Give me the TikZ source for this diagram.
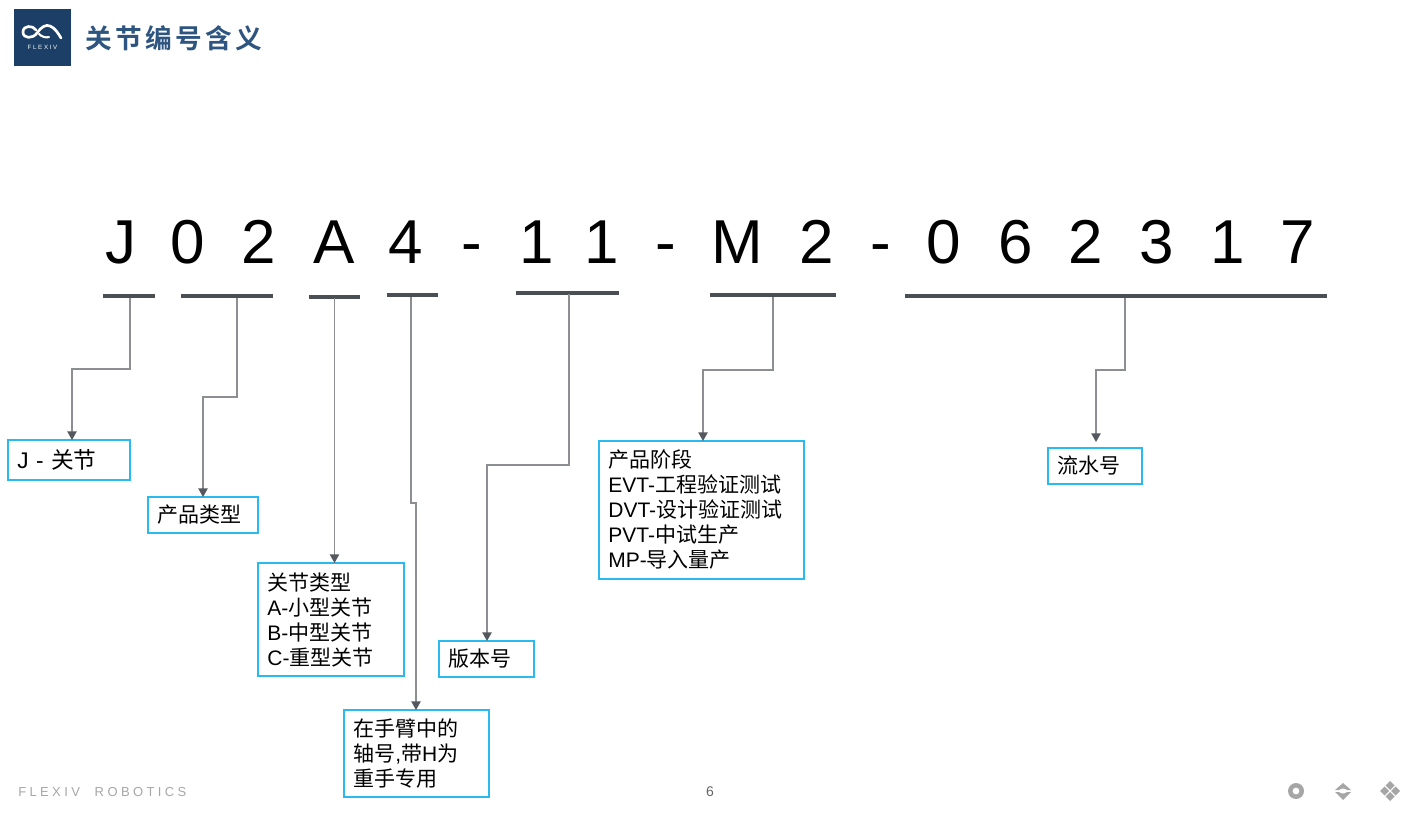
\documentclass[tikz,border=0pt]{standalone}
\usepackage{fontspec}
\usetikzlibrary{arrows.meta}
\setmainfont{Liberation Sans}
\newfontfamily\cjk{Noto Sans CJK SC}
\newfontfamily\cjkb{Noto Sans CJK SC}[BoldFont={Noto Sans CJK SC Bold}]
\newfontfamily\spaced{Liberation Sans}[LetterSpace=26]
\newcommand{\zh}[1]{{\cjk #1}}
\definecolor{boxblue}{HTML}{2ABAEE}
\definecolor{barc}{HTML}{4A4E55}
\definecolor{linec}{HTML}{8C8E92}
\definecolor{tipc}{HTML}{55585E}
\definecolor{navy}{HTML}{1B3F66}
\definecolor{titlec}{HTML}{2E5580}
\definecolor{footc}{HTML}{A6A6A6}
\begin{document}
\begin{tikzpicture}[x=0.75pt,y=-0.75pt,
  bigch/.style={font=\fontsize{46.5}{48}\selectfont,anchor=base,inner sep=0pt,text=black},
  barn/.style={fill=barc,inner sep=0pt,minimum height=3pt,anchor=west},
  lbl/.style={draw=boxblue,line width=0.85pt,anchor=north west,align=left,inner xsep=7pt,inner ysep=0pt,
    font=\fontsize{15.75}{18.75}\selectfont,text=black,outer sep=0pt},
  conn/.style={draw=linec,line width=1pt,-{Triangle[length=6.5pt,width=7pt,color=tipc]}},
  foot/.style={text=footc,inner sep=0pt},
  icon/.style={fill=footc,draw=none}]
\useasboundingbox (0,0) rectangle (1419,815);
% logo
\node[fill=navy,minimum width=42.75pt,minimum height=42.75pt,inner sep=0pt,anchor=north west] (logo) at (14,9) {};
\draw[white,line width=2pt,line cap=round,line join=round]
  (36,30) .. controls (33,25) and (23,25) .. (23,32) .. controls (23,39) and (33,39) .. (37,33)
  .. controls (41,27) and (46,24) .. (50,26) .. controls (55,28) and (58,33) .. (61,38);
\draw[white,line width=1.6pt,line cap=round] (39,34) .. controls (42,37) and (46,38) .. (49,37);
\node[text=white,font=\fontsize{4.6}{5}\selectfont,inner sep=0pt] (logotext) at (42.5,47.5) {F L E X I V};
\node[anchor=west,inner sep=0pt,text=titlec,font=\fontsize{20}{20}\selectfont\cjkb\bfseries] (title) at (85,38.5) {关\hspace{2.6pt}节\hspace{2.6pt}编\hspace{2.6pt}号\hspace{2.6pt}含\hspace{2.6pt}义};
% large code
\foreach \ch/\xx/\nm in {J/120.5/c1,0/188/c2,2/259/c3,A/334/c4,4/406/c5,-/472/c6,1/537/c7,1/602/c8,-/666/c9,M/737/c10,2/817/c11,-/881/c12,0/944/c13,6/1016/c14,2/1086/c15,3/1157/c16,1/1228/c17,7/1298/c18}
  \node[bigch] (\nm) at (\xx,263) {\ch};
% bars
\node[barn,minimum width=39pt] (b1) at (103,296) {};
\node[barn,minimum width=69pt] (b2) at (181,296) {};
\node[barn,minimum width=38.25pt] (b3) at (309,296.5) {};
\node[barn,minimum width=38.25pt] (b4) at (387,295) {};
\node[barn,minimum width=77.25pt] (b5) at (516,292.5) {};
\node[barn,minimum width=94.5pt] (b6) at (710,295) {};
\node[barn,minimum width=316.5pt] (b7) at (905,296) {};
% label boxes
\node[lbl,minimum width=91.5pt,minimum height=30pt,text width=77.5pt,font=\fontsize{17}{18.75}\selectfont] (l1) at (8,440) {J - \zh{关节}};
\node[lbl,minimum width=82.5pt,minimum height=27pt,text width=68.5pt] (l2) at (148,497) {\zh{产品类型}};
\node[lbl,minimum width=109.5pt,minimum height=84.75pt,text width=95.5pt] (l3) at (258,563) {\zh{关节类型}\\A-\zh{小型关节}\\B-\zh{中型关节}\\C-\zh{重型关节}};
\node[lbl,minimum width=108.75pt,minimum height=65.25pt,text width=94.75pt] (l4) at (344,710) {\zh{在手臂中的}\\\zh{轴号},\zh{带}H\zh{为}\\\zh{重手专用}};
\node[lbl,minimum width=71.25pt,minimum height=27pt,text width=57.25pt] (l5) at (439,641) {\zh{版本号}};
\node[lbl,minimum width=153.75pt,minimum height=103.5pt,text width=139.75pt] (l6) at (599,441) {\zh{产品阶段}\\EVT-\zh{工程验证测试}\\DVT-\zh{设计验证测试}\\PVT-\zh{中试生产}\\MP-\zh{导入量产}};
\node[lbl,minimum width=70.5pt,minimum height=27pt,text width=56.5pt] (l7) at (1048,448) {\zh{流水号}};
% connector anchors
\coordinate (s1) at (130,298);
\coordinate (s2) at (237,298);
\coordinate (s3) at (334.5,298);
\coordinate (s4) at (411,297);
\coordinate (s5) at (569,294);
\coordinate (s6) at (773,297);
\coordinate (s7) at (1125,298);
\coordinate (t1) at (72,440);
\coordinate (t2) at (203,497);
\coordinate (t3) at (334.5,563);
\coordinate (t4) at (416,710);
\coordinate (t5) at (487,641);
\coordinate (t6) at (703,441);
\coordinate (t7) at (1096,442);
\draw[conn] (s1) -- (130,369) -- (72,369) -- (t1);
\draw[conn] (s2) -- (237,397) -- (203,397) -- (t2);
\draw[conn] (s3) -- (t3);
\draw[conn] (s4) -- (411,503) -- (416,503) -- (t4);
\draw[conn] (s5) -- (569,465) -- (487,465) -- (t5);
\draw[conn] (s6) -- (773,370) -- (703,370) -- (t6);
\draw[conn] (s7) -- (1125,370) -- (1096,370) -- (t7);
% footer
\node[foot,anchor=west,font=\fontsize{9.75}{10}\selectfont\spaced] (ft) at (18,792) {FLEXIV\hspace{0.6em} ROBOTICS};
\node[text=black!60,inner sep=0pt,font=\fontsize{10.5}{11}\selectfont] (pg) at (710,792) {6};
\fill[icon,even odd rule] (1296,791) circle (8) (1296,791) circle (3.5);
\fill[icon] (1343,783) -- (1351,790) -- (1347,790) .. controls (1345,788) and (1341,788) .. (1339,790) -- (1335,790) -- cycle;
\fill[icon] (1335,792) -- (1339,792) .. controls (1341,794) and (1345,794) .. (1347,792) -- (1351,792) -- (1343,800) -- cycle;
\foreach \dx/\dy in {0/-5.5,-5.5/0,5.5/0,0/5.5}
  \fill[icon] (1390+\dx,791+\dy) ++(0,-4.5) -- ++(4.5,4.5) -- ++(-4.5,4.5) -- ++(-4.5,-4.5) -- cycle;
\end{tikzpicture}
\end{document}
